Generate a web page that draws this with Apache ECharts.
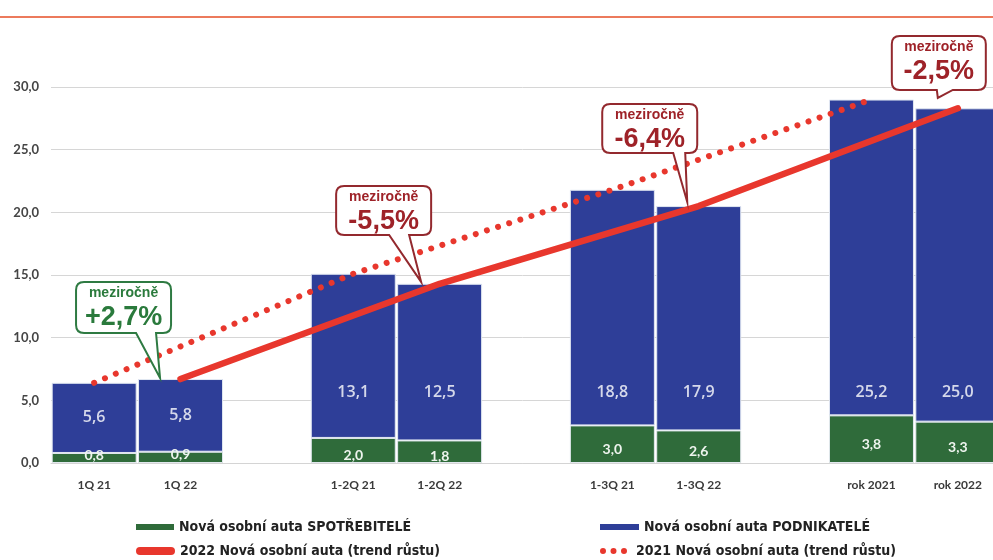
<!DOCTYPE html>
<html>
<head>
<meta charset="utf-8">
<script src="https://cdn.jsdelivr.net/npm/echarts@6/dist/echarts.min.js"></script>
<style>
html,body{margin:0;padding:0;background:#fff;}
#c{width:993px;height:560px;}
</style>
</head>
<body>
<div id="c"></div>
<script>
// ---- data ----
const CATEGORIES = ['1Q 21', '1Q 22', ' ', '1-2Q 21', '1-2Q 22', '  ', '1-3Q 21', '1-3Q 22', '   ', 'rok 2021', 'rok 2022'];
const GREEN = [0.8, 0.9, null, 2.0, 1.8, null, 3.0, 2.6, null, 3.8, 3.3];
const BLUE = [5.6, 5.8, null, 13.1, 12.5, null, 18.8, 17.9, null, 25.2, 25.0];
const TREND_2021 = [6.4, null, null, 15.1, null, null, 21.8, null, null, 29.0, null];
const TREND_2022 = [null, 6.7, null, null, 14.3, null, null, 20.5, null, null, 28.3];
const Y_TICKS = [0, 5, 10, 15, 20, 25, 30];
const CALLOUT_CAT = ['1Q 22', '1-2Q 22', '1-3Q 22', 'rok 2022'];
const CALLOUT_TIP = [6.78, 14.45, 20.83, 29.13];
const CALLOUT_TEXT = ['+2,7%', '-5,5%', '-6,4%', '-2,5%'];

const N_GREEN = 'Nová osobní auta SPOTŘEBITELÉ';
const N_BLUE = 'Nová osobní auta PODNIKATELÉ';
const N_2022 = '2022 Nová osobní auta (trend růstu)';
const N_2021 = '2021 Nová osobní auta (trend růstu)';

// ---- styling / layout (not data) ----
const C_GREEN = '#2f6b3a';
const C_BLUE = '#2e3e98';
const C_RED = '#e8372d';
const CALLOUT_GEOM = [
  {dx: -20.5, l: -84, r: 11, t: -96, b: -45, tl: -24, tr: -4, color: '#2e7a42', text: '#2a7a3c'},
  {dx: -18.5, l: -85, r: 10, t: -96, b: -47, tl: -32, tr: -12, color: '#93292e', text: '#9e2228'},
  {dx: -11.5, l: -85, r: 10, t: -98, b: -49, tl: -14, tr: -2, color: '#93292e', text: '#9e2228'},
  {dx: -20, l: -46, r: 48, t: -62, b: -8, tl: -1, tr: 15, color: '#93292e', text: '#9e2228'}
];

const fmt = v => v.toFixed(1).replace('.', ',');

const greenData = GREEN.map(v => v == null ? '-' : {
  value: v,
  label: {offset: v < 1.5 ? [0, -3] : [0, 5]}
});
const blueData = BLUE.map(v => v == null ? '-' : v);
const blueLabelData = [];
BLUE.forEach((v, i) => {
  if (v != null) blueLabelData.push([i, Math.min(GREEN[i] + v / 2, 5.65), v]);
});
const calloutData = CALLOUT_CAT.map((c, i) => [CATEGORIES.indexOf(c), CALLOUT_TIP[i]]);

const DOTS = 'path://M0,3a3,3 0 1,0 6,0a3,3 0 1,0 -6,0Z M10.5,3a3,3 0 1,0 6,0a3,3 0 1,0 -6,0Z M21,3a3,3 0 1,0 6,0a3,3 0 1,0 -6,0Z';
const PILL = 'path://M4,0H35A4,4 0 0 1 35,8H4A4,4 0 0 1 4,0Z';
const legendText = {fontFamily: '"Liberation Sans Narrow", "DejaVu Sans Condensed", sans-serif', fontWeight: 'bold', fontSize: 14, color: '#222222'};
const legendItem = {borderWidth: 0};

const chart = echarts.init(document.getElementById('c'), null, {renderer: 'canvas'});
chart.setOption({
  animation: false,
  backgroundColor: '#fff',
  graphic: [
    {type: 'line', shape: {x1: 0, y1: 17, x2: 993, y2: 17}, style: {stroke: '#ec7a5c', lineWidth: 2}, z: 10}
  ],
  grid: {left: 51, top: 87, width: 950, height: 376, containLabel: false, outerBoundsMode: 'none'},
  legend: [
    {left: 131, top: 515, itemWidth: 38, itemHeight: 6, itemStyle: legendItem, data: [{name: N_GREEN, icon: 'rect'}], textStyle: legendText},
    {left: 131, top: 539, itemWidth: 39, itemHeight: 8, itemStyle: legendItem, data: [{name: N_2022, icon: PILL}], textStyle: legendText},
    {left: 595, top: 515, itemWidth: 39, itemHeight: 6, itemStyle: legendItem, data: [{name: N_BLUE, icon: 'rect'}], textStyle: legendText},
    {left: 595, top: 539, itemWidth: 35, itemHeight: 6, itemStyle: legendItem, data: [{name: N_2021, icon: DOTS}], textStyle: legendText}
  ],
  xAxis: {
    type: 'category',
    data: CATEGORIES,
    axisLine: {show: true, lineStyle: {color: '#d4d4d4', width: 1}},
    axisTick: {show: false},
    axisLabel: {
      interval: 0, margin: 16,
      fontFamily: 'Lato, sans-serif', fontWeight: 'bold', fontSize: 12, color: '#3a3a3a'
    }
  },
  yAxis: {
    type: 'value', min: Y_TICKS[0], max: Y_TICKS[Y_TICKS.length - 1], interval: 5,
    axisLine: {show: false}, axisTick: {show: false},
    splitLine: {lineStyle: {color: '#d6d6d6', width: 1}},
    axisLabel: {
      margin: 12, formatter: v => fmt(v),
      fontFamily: 'Lato, sans-serif', fontWeight: 'bold', fontSize: 13, color: '#454545'
    }
  },
  series: [
    {
      name: N_GREEN, type: 'bar', stack: 'total', barWidth: 85, data: greenData,
      itemStyle: {color: C_GREEN, borderColor: '#e2e8ee', borderWidth: 1},
      label: {show: true, position: 'inside', formatter: p => fmt(p.value),
        fontFamily: 'Lato, sans-serif', fontWeight: 'bold', fontSize: 14, color: '#eef4ee'},
      z: 2
    },
    {
      name: N_BLUE, type: 'bar', stack: 'total', barWidth: 85, data: blueData,
      itemStyle: {color: C_BLUE, borderColor: '#e2e8f2', borderWidth: 1},
      z: 2
    },
    {
      name: 'blueLabels', type: 'scatter', data: blueLabelData, symbolSize: 0, silent: true,
      label: {show: true, position: 'inside', formatter: p => fmt(p.value[2]),
        fontFamily: '"Open Sans", Lato, sans-serif', fontWeight: 600, fontSize: 16, color: '#ffffff'},
      z: 3
    },
    {
      name: N_2021, type: 'line', data: TREND_2021, connectNulls: true, symbol: 'none',
      itemStyle: {color: C_RED},
      lineStyle: {color: C_RED, width: 6, type: [0.01, 11.7], cap: 'round'},
      z: 5
    },
    {
      name: N_2022, type: 'line', data: TREND_2022, connectNulls: true, symbol: 'none',
      itemStyle: {color: C_RED},
      lineStyle: {color: C_RED, width: 6.5, cap: 'round'},
      z: 5
    },
    {
      name: 'callouts', type: 'custom', data: calloutData, clip: false, silent: true, z: 10,
      renderItem: function (params, api) {
        const i = params.dataIndex;
        const g = CALLOUT_GEOM[i];
        const c = api.coord([api.value(0), api.value(1)]);
        const tx = c[0] + g.dx, ty = c[1];
        const L = tx + g.l, R = tx + g.r, T = ty + g.t, B = ty + g.b, r = 8;
        const path = 'M' + (L + r) + ',' + T + 'H' + (R - r) + 'Q' + R + ',' + T + ' ' + R + ',' + (T + r) +
          'V' + (B - r) + 'Q' + R + ',' + B + ' ' + (R - r) + ',' + B +
          'H' + (tx + g.tr) + 'L' + tx + ',' + ty + 'L' + (tx + g.tl) + ',' + B +
          'H' + (L + r) + 'Q' + L + ',' + B + ' ' + L + ',' + (B - r) +
          'V' + (T + r) + 'Q' + L + ',' + T + ' ' + (L + r) + ',' + T + 'Z';
        const cx = (L + R) / 2;
        return {
          type: 'group',
          children: [
            {type: 'path', shape: {pathData: path}, style: {fill: '#ffffff', stroke: g.color, lineWidth: 2}},
            {type: 'text', style: {text: 'meziročně', x: cx, y: T + 11, align: 'center', verticalAlign: 'middle',
              font: 'bold 14px "Liberation Sans", Arial, sans-serif', fill: g.text}},
            {type: 'text', style: {text: CALLOUT_TEXT[i], x: cx, y: T + 36, align: 'center', verticalAlign: 'middle',
              font: 'bold 27px "Liberation Sans", Arial, sans-serif', fill: g.text}}
          ]
        };
      }
    }
  ]
});
</script>
</body>
</html>
